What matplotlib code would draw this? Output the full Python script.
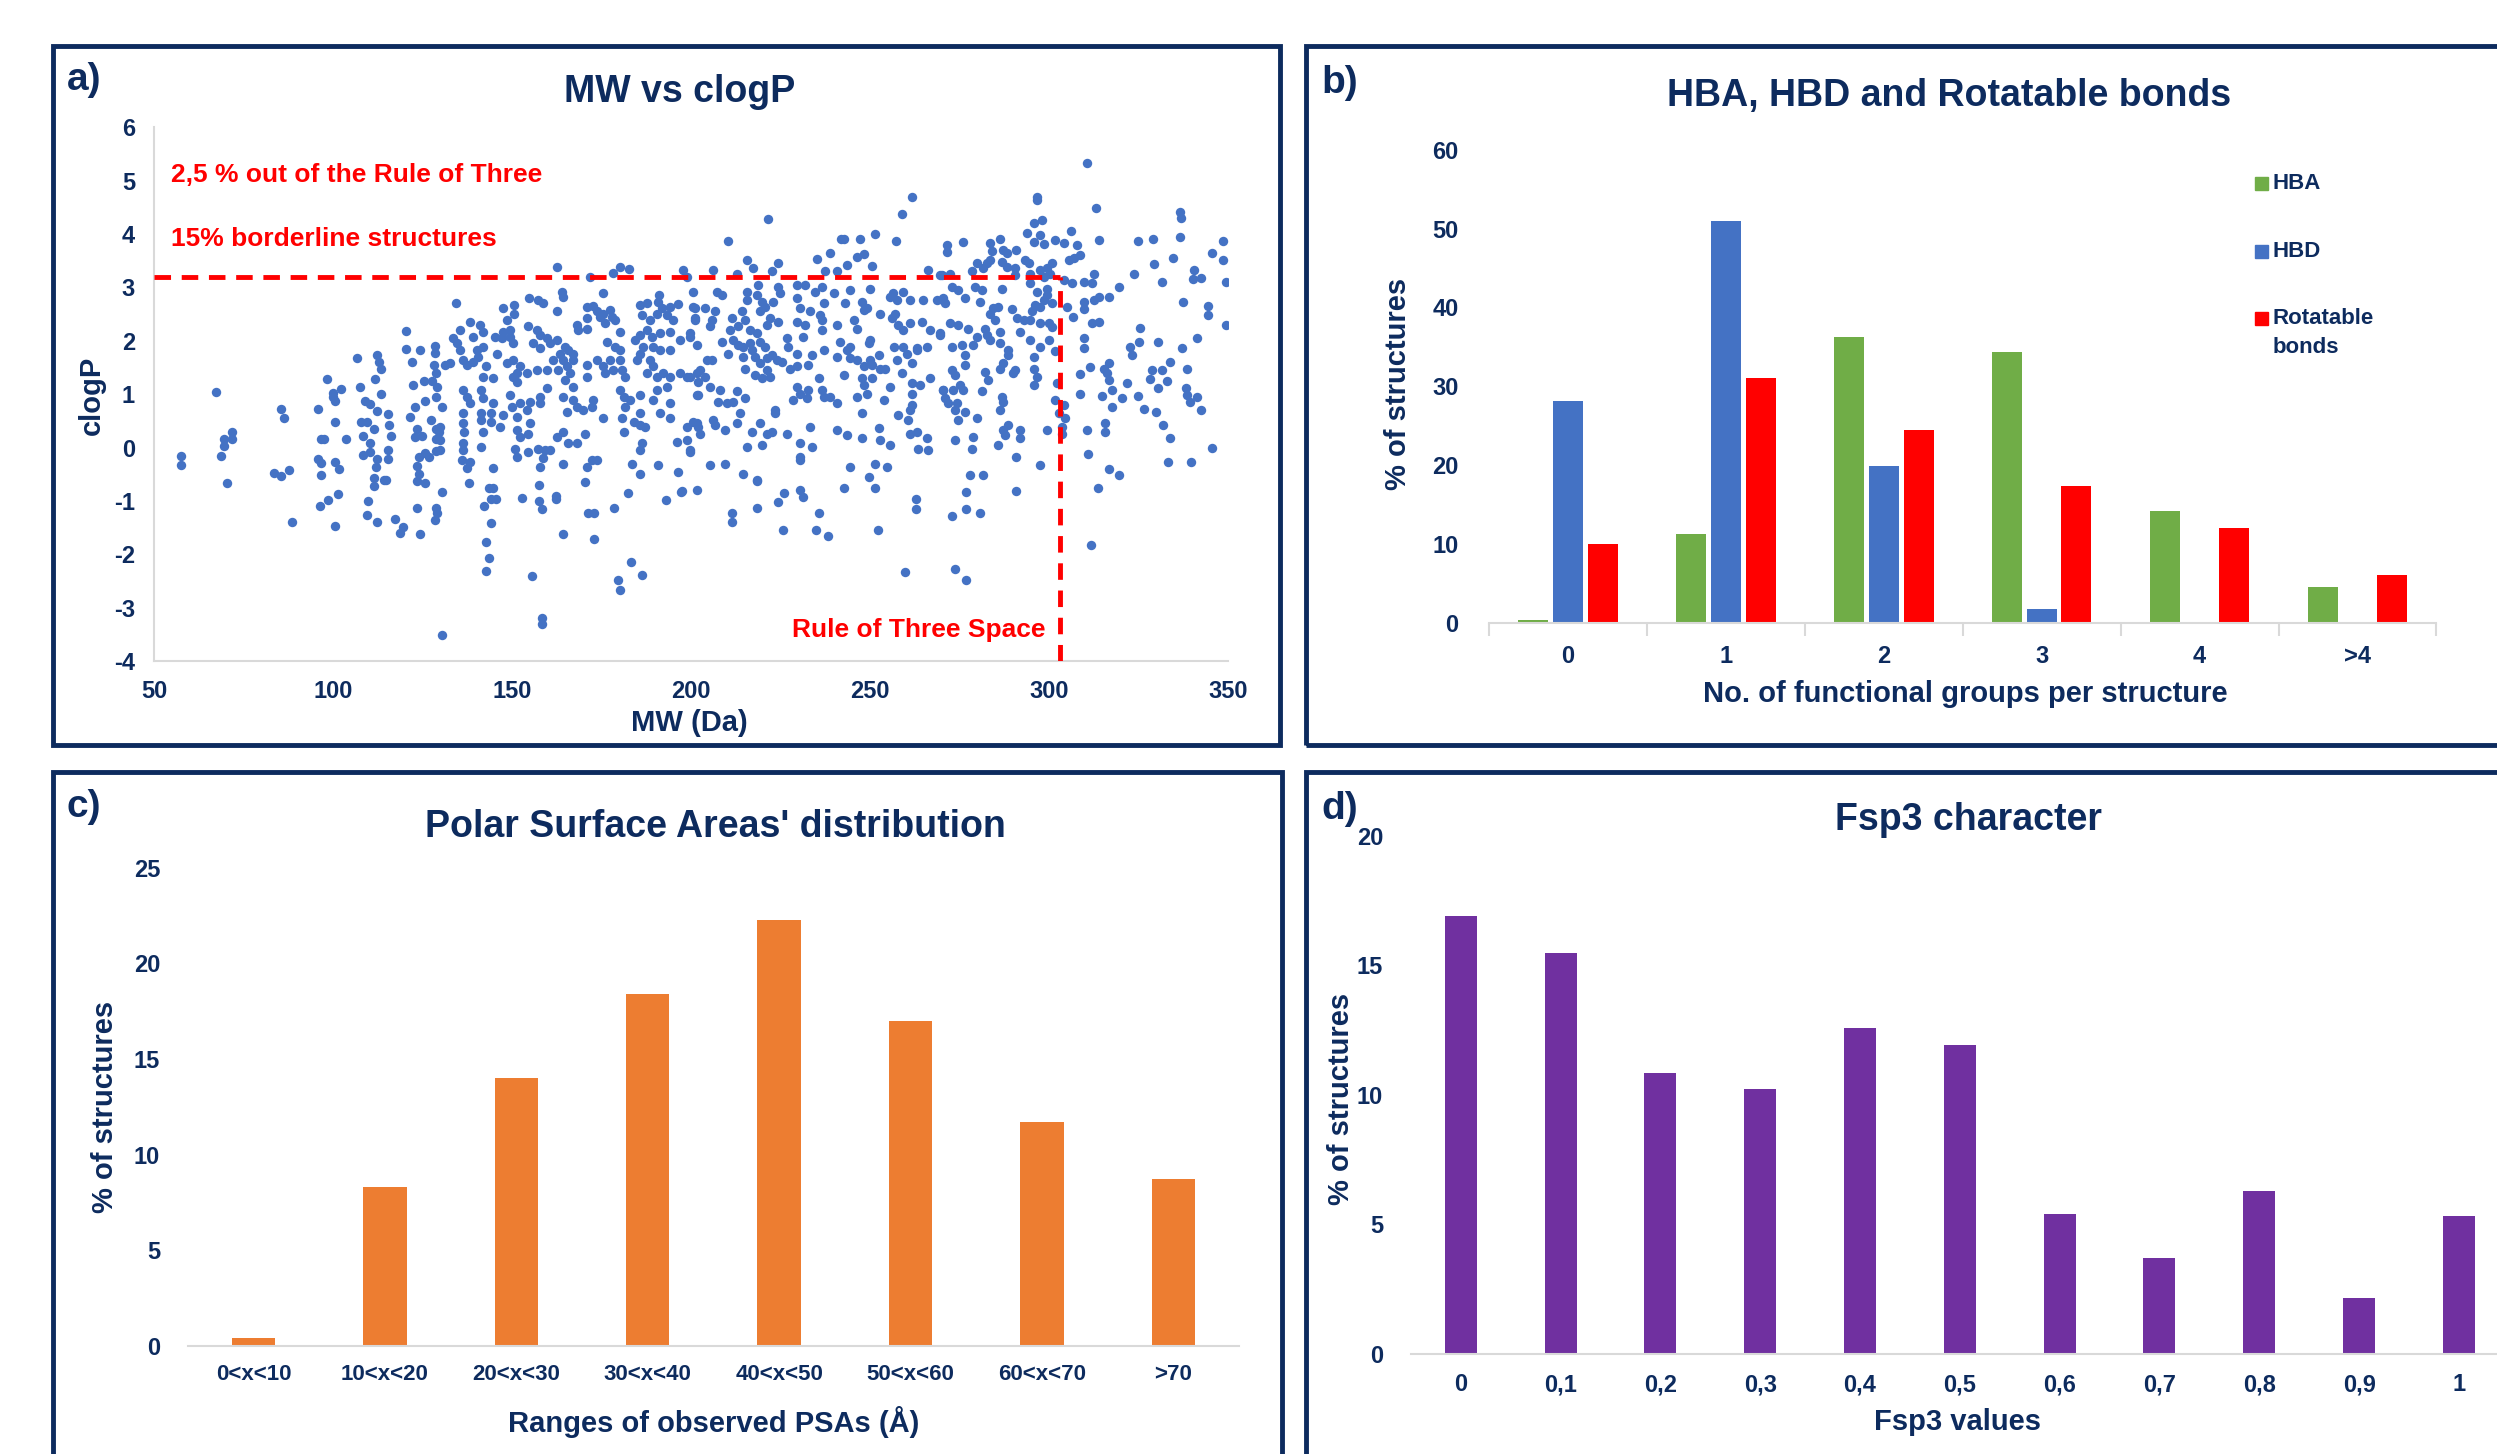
import numpy as np
import matplotlib
matplotlib.use("Agg")
import matplotlib.pyplot as plt
from matplotlib.patches import Rectangle

plt.rcParams['font.family'] = ['Liberation Sans', 'DejaVu Sans']
plt.rcParams['font.weight'] = 'bold'
plt.rcParams['axes.unicode_minus'] = False

NAVY = '#0d2b5e'
GREY = '#d9d9d9'

# ---- a) MW vs clogP, (MW, clogP) pairs ----
pts_left = [(57.4, -0.16), (57.4, -0.32), (67.3, 1.04), (71.6, 0.29), (69.5, 0.16), (69.5, 0.02),
            (68.5, -0.16), (71.8, 0.16), (70.3, -0.67), (85.3, 0.73), (86.3, 0.56), (83.4, -0.47),
            (85.3, -0.54), (87.5, -0.42), (88.4, -1.39), (95.7, 0.73), (96.6, 0.16), (95.7, -0.21),
            (96.6, -0.29), (96.6, -0.51), (98.3, 1.29), (99.8, 1.02), (99.8, 0.95), (97.5, 0.16),
            (98.4, -0.99), (96.4, -1.09),
            (100.5, 0.88), (100.5, 0.48), (103.6, 0.16), (100.5, -0.27), (101.5, -0.40), (101.4, -0.88),
            (100.5, -1.47), (102.1, 1.09), (106.5, 1.68), (107.5, 1.13), (108.9, 0.88), (110.3, 0.81),
            (112.3, 0.68), (107.6, 0.48), (109.4, 0.48), (111.3, 0.35), (108.4, 0.22), (110.3, 0.09),
            (110.3, -0.08), (108.4, -0.14), (112.3, -0.21), (111.8, -0.37), (111.3, -0.57), (114.2, -0.60),
            (111.3, -0.73), (109.6, -1.0), (109.4, -1.26), (112.3, -1.39), (112.3, 1.73), (112.8, 1.60),
            (113.4, 1.47), (111.5, 1.29), (113.4, 1.01), (115.2, 0.62), (115.6, 0.42), (116.1, 0.22),
            (115.2, -0.04), (115.2, -0.21), (114.6, -0.60), (117.3, -1.34), (119.5, -1.49), (118.6, -1.61),
            (120.4, 2.19), (120.4, 1.85), (121.9, 1.60), (122.4, 1.18), (124.3, 1.83), (125.3, 1.24),
            (122.9, 0.76), (125.7, 0.88), (121.4, 0.58), (123.3, 0.35), (122.9, 0.19), (124.8, 0.22),
            (123.8, -0.17), (125.7, -0.11), (123.3, -0.34), (123.8, -0.50), (123.3, -0.63), (125.7, -0.67),
            (123.3, -1.13), (124.3, -1.63), (128.4, 1.90), (128.4, 1.77), (128.1, 1.54), (128.6, 1.40),
            (127.7, 1.24), (129.1, 1.14), (128.6, 0.94), (127.2, 0.52), (128.6, 0.35), (129.6, 0.29),
            (128.6, 0.16), (128.6, -0.07), (126.7, -0.17), (128.6, -1.13), (129.1, -1.22), (128.4, -1.36)]

pts_core_130_200 = [
    (162.4, 3.39), (171.7, 3.20), (178.3, 3.28), (180.1, 3.39), (182.7, 3.34), (197.6, 3.33), (198.8, 3.20),
    (163.8, 2.92), (164.3, 2.83), (175.3, 2.89), (191.1, 2.86), (200.6, 2.92), (134.3, 2.71), (154.8, 2.80),
    (157.3, 2.77), (158.7, 2.70), (147.5, 2.61), (150.5, 2.67), (150.5, 2.51), (162.4, 2.56), (170.8, 2.64),
    (172.7, 2.65), (173.6, 2.55), (175.5, 2.51), (177.3, 2.58), (177.8, 2.45), (185.7, 2.67), (187.6, 2.70),
    (190.8, 2.73), (191.8, 2.61), (194.1, 2.64), (196.2, 2.69), (201.1, 2.61), (186.2, 2.48), (188.5, 2.39),
    (190.4, 2.51), (193.2, 2.48), (195.0, 2.39), (201.1, 2.42),
    (138.2, 2.36), (141.0, 2.30), (141.9, 2.17), (135.4, 2.20), (133.5, 2.05), (134.5, 1.95), (135.4, 1.83),
    (148.4, 2.39), (147.5, 2.17), (149.4, 2.20), (145.2, 2.08), (147.0, 2.05), (149.4, 2.08), (150.3, 1.95),
    (154.5, 2.27), (156.8, 2.20), (157.8, 2.11), (159.6, 2.05), (155.9, 1.95), (157.8, 1.86), (160.6, 1.95),
    (162.4, 2.01), (168.0, 2.30), (168.5, 2.20), (170.8, 2.23), (170.8, 2.42), (174.5, 2.45), (175.9, 2.33),
    (178.7, 2.39), (180.1, 2.17), (176.4, 1.98), (178.7, 1.89), (180.1, 1.83), (184.3, 2.01), (185.7, 2.11),
    (187.6, 2.20), (189.0, 2.08), (191.3, 2.14), (194.1, 2.17), (196.9, 2.01), (199.7, 2.08), (186.6, 1.89),
    (189.4, 1.89), (191.3, 1.83), (194.1, 1.83), (141.9, 1.89), (140.1, 1.83), (139.1, 2.08),
    (131.2, 1.55), (132.6, 1.58), (136.3, 1.64), (137.3, 1.55), (139.1, 1.61), (140.5, 1.70), (142.8, 1.52),
    (145.6, 1.76), (148.4, 1.58), (150.3, 1.64), (152.2, 1.52), (151.2, 1.39), (154.0, 1.39), (156.8, 1.45),
    (159.6, 1.45), (161.5, 1.64), (163.4, 1.76), (164.8, 1.89), (165.7, 1.83), (167.1, 1.76), (164.3, 1.64),
    (165.2, 1.52), (166.1, 1.39), (164.8, 1.27), (167.1, 1.64), (162.9, 1.45), (170.8, 1.55), (170.8, 1.33),
    (173.6, 1.64), (175.5, 1.52), (177.3, 1.64), (175.9, 1.39), (178.3, 1.45), (180.1, 1.64), (180.6, 1.45),
    (181.5, 1.33), (184.8, 1.64), (185.7, 1.76), (188.5, 1.64), (187.6, 1.39), (189.4, 1.52), (190.4, 1.33),
    (192.2, 1.39), (194.1, 1.33), (196.9, 1.39), (198.8, 1.33), (201.6, 1.39), (141.9, 1.33), (144.7, 1.30),
    (150.3, 1.33), (151.2, 1.23),
    (136.3, 1.08), (137.3, 0.95), (138.2, 0.83), (130.3, 0.76), (141.4, 1.08), (141.9, 0.92), (144.7, 0.83),
    (149.4, 0.98), (152.2, 0.83), (155.0, 0.86), (157.8, 0.95), (159.6, 1.11), (157.8, 0.83), (154.0, 0.70),
    (147.5, 0.61), (149.8, 0.76), (164.3, 0.95), (167.1, 1.14), (167.1, 0.89), (168.0, 0.76), (169.9, 0.70),
    (172.2, 0.76), (165.2, 0.67), (172.7, 0.89), (180.1, 1.08), (181.1, 0.95), (181.5, 0.76), (182.9, 0.89),
    (185.7, 0.98), (189.4, 0.89), (190.4, 1.08), (193.2, 1.14), (194.1, 0.83), (201.6, 0.98), (136.3, 0.64),
    (141.4, 0.64), (144.2, 0.64), (175.5, 0.55), (185.7, 0.64), (191.3, 0.64), (194.1, 0.55),
    (129.8, 0.39), (129.8, 0.14), (136.3, 0.45), (136.5, 0.30), (136.3, 0.08), (141.4, 0.51), (141.9, 0.30),
    (144.2, 0.48), (146.6, 0.39), (151.2, 0.58), (151.2, 0.33), (155.0, 0.45), (152.2, 0.20), (154.5, 0.26),
    (162.4, 0.20), (164.3, 0.30), (165.7, 0.08), (168.0, 0.08), (170.3, 0.26), (180.6, 0.55), (181.1, 0.30),
    (183.9, 0.48), (185.7, 0.42), (187.1, 0.39), (198.8, 0.39), (201.6, 0.45), (196.0, 0.11), (198.8, 0.14),
    (129.8, -0.05), (136.3, -0.05), (138.2, -0.27), (137.3, -0.39), (135.9, -0.24), (141.4, 0.01),
    (144.7, -0.39), (150.8, -0.02), (151.2, -0.17), (154.5, -0.08), (157.3, -0.02), (159.2, -0.05),
    (160.6, -0.05), (158.7, -0.20), (157.8, -0.36), (164.3, -0.30), (170.8, -0.36), (172.2, -0.24),
    (173.6, -0.24), (183.4, -0.30), (185.7, -0.05), (186.2, 0.08), (190.8, -0.33), (196.4, -0.45),
    (199.7, -0.08), (185.7, -0.49)]

pts_core_200_270 = [
    (215.5, 3.51), (217.4, 3.36), (224.4, 3.46), (222.5, 3.30), (235.1, 3.53), (238.8, 3.65), (246.3, 3.58),
    (248.2, 3.63), (250.5, 3.40), (243.5, 3.42), (237.4, 3.30), (240.7, 3.30), (206.2, 3.33), (212.7, 3.26),
    (266.3, 3.33), (270.1, 3.23),
    (207.2, 2.92), (208.5, 2.86), (215.5, 2.92), (218.8, 3.05), (218.3, 2.86), (224.4, 3.01), (224.9, 2.89),
    (229.5, 3.05), (231.9, 3.05), (234.6, 2.92), (236.5, 3.01), (239.8, 2.89), (244.4, 2.95), (250.0, 2.98),
    (256.5, 2.89), (259.3, 2.92), (215.5, 2.76), (219.7, 2.73), (223.0, 2.73), (220.7, 2.64), (219.3, 2.55),
    (229.5, 2.80), (230.5, 2.61), (233.3, 2.55), (237.0, 2.70), (236.0, 2.48), (243.0, 2.70), (247.7, 2.73),
    (248.2, 2.58), (249.1, 2.61), (252.8, 2.51), (255.6, 2.83), (257.5, 2.76), (261.2, 2.76), (264.9, 2.76),
    (268.7, 2.76), (270.5, 2.76), (257.0, 2.51), (203.9, 2.61), (200.6, 2.64), (206.7, 2.55), (214.1, 2.55),
    (201.1, 2.39), (205.8, 2.39), (205.3, 2.27), (211.3, 2.42), (215.1, 2.39), (213.2, 2.27), (210.9, 2.20),
    (216.5, 2.20), (218.3, 2.14), (222.1, 2.42), (224.4, 2.36), (221.1, 2.30), (229.5, 2.36), (231.9, 2.30),
    (236.5, 2.39), (236.5, 2.20), (240.7, 2.30), (245.4, 2.39), (246.3, 2.23), (256.1, 2.42), (257.9, 2.30),
    (259.3, 2.20), (261.2, 2.33), (264.5, 2.36), (266.8, 2.20), (269.6, 2.11), (199.7, 2.14), (201.6, 1.92),
    (208.6, 1.98), (211.8, 2.01), (213.2, 1.92), (214.6, 1.89), (216.5, 1.95), (219.3, 1.98), (220.7, 1.89),
    (226.7, 2.05), (227.2, 1.89), (231.4, 2.08), (241.6, 1.98), (244.4, 1.89), (250.0, 2.01), (249.6, 1.95),
    (256.6, 1.89), (259.3, 1.89), (263.1, 1.86), (265.9, 1.89),
    (204.4, 1.64), (205.8, 1.64), (202.5, 1.45), (203.9, 1.33), (202.0, 1.23), (210.4, 1.76), (214.6, 1.70),
    (216.9, 1.83), (217.9, 1.70), (219.3, 1.58), (221.1, 1.67), (222.5, 1.73), (223.9, 1.64), (225.3, 1.61),
    (215.1, 1.48), (217.9, 1.36), (219.7, 1.30), (221.1, 1.45), (222.1, 1.33), (227.7, 1.48), (229.5, 1.76),
    (229.5, 1.52), (232.8, 1.55), (233.7, 1.73), (235.6, 1.30), (237.0, 1.83), (240.7, 1.70), (243.5, 1.83),
    (244.4, 1.67), (246.3, 1.64), (248.2, 1.52), (250.5, 1.55), (252.8, 1.48), (254.2, 1.48), (250.0, 1.64),
    (252.4, 1.73), (242.6, 1.36), (247.7, 1.30), (250.5, 1.30), (257.5, 1.64), (258.9, 1.39), (260.3, 1.76),
    (261.7, 1.58), (263.1, 1.83), (266.8, 1.30), (199.7, 1.33),
    (202.0, 0.98), (205.3, 1.14), (208.1, 1.08), (207.6, 0.86), (210.0, 0.83), (211.8, 0.86), (215.1, 0.92),
    (212.7, 1.05), (229.5, 1.14), (230.5, 1.01), (232.8, 1.08), (228.6, 0.89), (232.3, 0.92), (236.5, 1.08),
    (237.0, 0.95), (238.8, 0.95), (240.7, 0.83), (246.3, 0.95), (249.1, 1.01), (248.2, 1.17), (255.6, 1.14),
    (253.8, 0.89), (261.7, 1.20), (264.0, 1.17), (261.7, 1.01), (270.5, 1.08), (261.7, 0.80), (261.2, 0.70),
    (223.5, 0.70), (223.5, 0.64), (213.7, 0.64), (257.9, 0.61), (247.7, 0.64),
    (200.6, 0.48), (202.0, 0.39), (202.5, 0.26), (206.2, 0.51), (206.7, 0.42), (212.7, 0.45), (209.5, 0.33),
    (219.3, 0.45), (221.1, 0.26), (222.5, 0.30), (216.9, 0.30), (226.7, 0.26), (233.3, 0.39), (240.7, 0.33),
    (243.5, 0.23), (247.7, 0.17), (252.4, 0.36), (252.8, 0.14), (255.6, 0.05), (260.7, 0.51), (261.2, 0.26),
    (263.1, 0.30), (265.9, 0.17), (199.7, -0.05), (215.5, 0.01), (219.7, 0.05), (230.5, 0.08), (233.7, 0.01),
    (263.5, -0.02), (266.3, -0.05),
    (230.5, -0.17), (230.5, -0.24), (205.3, -0.33), (209.5, -0.30), (214.6, -0.49), (244.4, -0.36),
    (251.4, -0.30), (254.7, -0.36), (249.6, -0.55), (218.3, -0.61)]

pts_core_270_342 = [
    (296.6, 4.64), (313.2, 4.48), (336.7, 4.42), (336.9, 4.30), (295.7, 4.20), (298.0, 4.26), (306.1, 4.06),
    (294.0, 4.03), (297.6, 3.98), (336.7, 3.95), (276.1, 3.86), (271.5, 3.80), (271.5, 3.67), (283.6, 3.83),
    (286.4, 3.90), (284.0, 3.69), (287.3, 3.70), (288.2, 3.64), (290.9, 3.70), (295.7, 3.86), (298.5, 3.81),
    (301.8, 3.89), (304.1, 3.84), (307.8, 3.80), (313.9, 3.89), (324.8, 3.88), (329.1, 3.91), (334.8, 3.55),
    (329.3, 3.44), (283.6, 3.51), (282.6, 3.45), (279.9, 3.45), (281.5, 3.36), (286.8, 3.48), (288.2, 3.39),
    (290.6, 3.36), (293.4, 3.51), (294.3, 3.45), (300.8, 3.45), (305.5, 3.51), (306.9, 3.55), (308.7, 3.61),
    (278.5, 3.30), (269.6, 3.23), (272.4, 3.26), (290.6, 3.23), (294.8, 3.26), (297.6, 3.33), (299.4, 3.36),
    (298.5, 3.20), (300.4, 3.26), (304.1, 3.14), (306.4, 3.08), (309.7, 3.11), (312.7, 3.26), (312.0, 3.08),
    (319.7, 3.00), (323.8, 3.26), (331.6, 3.11), (340.6, 3.33), (340.4, 3.15),
    (272.9, 3.00), (274.7, 2.95), (279.4, 3.00), (281.3, 2.95), (286.8, 2.98), (294.8, 3.08), (296.6, 2.92),
    (299.4, 2.98), (299.4, 2.86), (298.5, 2.76), (270.5, 2.80), (271.0, 2.70), (276.6, 2.80), (280.8, 2.73),
    (284.5, 2.61), (283.6, 2.51), (285.9, 2.64), (289.6, 2.59), (295.2, 2.55), (296.2, 2.67), (297.6, 2.64),
    (300.8, 2.70), (305.0, 2.63), (306.7, 2.45), (309.7, 2.59), (309.7, 2.73), (312.5, 2.76), (313.9, 2.83),
    (316.7, 2.83), (337.6, 2.73), (272.4, 2.33), (274.7, 2.30), (277.5, 2.23), (282.2, 2.23), (285.0, 2.39),
    (291.0, 2.42), (292.9, 2.39), (294.8, 2.39), (297.6, 2.33), (299.9, 2.33), (300.8, 2.26), (312.0, 2.33),
    (313.9, 2.36), (325.5, 2.24), (269.6, 2.14),
    (279.9, 2.08), (282.6, 2.11), (283.6, 2.01), (286.4, 2.17), (286.4, 1.95), (292.0, 2.17), (294.8, 2.01),
    (299.9, 2.01), (272.9, 1.89), (275.7, 1.92), (278.9, 1.92), (276.6, 1.73), (288.7, 1.83), (288.7, 1.73),
    (297.6, 1.89), (301.8, 1.81), (309.7, 2.06), (309.7, 1.86), (322.7, 1.89), (323.2, 1.73), (325.1, 1.98),
    (330.6, 1.98), (337.2, 1.86), (341.4, 2.05), (276.6, 1.55), (287.3, 1.58), (286.4, 1.48), (295.7, 1.70),
    (295.7, 1.48), (290.1, 1.39), (290.6, 1.45), (282.2, 1.42), (272.9, 1.45), (273.8, 1.36), (283.1, 1.26),
    (296.6, 1.33), (316.7, 1.58), (315.3, 1.48), (311.5, 1.51), (308.7, 1.37), (316.2, 1.39), (316.7, 1.26),
    (328.8, 1.45), (331.6, 1.45), (333.9, 1.61), (338.6, 1.48), (328.3, 1.29), (333.0, 1.25), (321.8, 1.20),
    (270.5, 1.08), (273.3, 1.08), (275.2, 1.17), (276.1, 1.08), (271.0, 0.92), (271.9, 0.83), (274.3, 0.83),
    (273.8, 0.70), (276.6, 0.67), (281.3, 1.05), (286.8, 0.95), (287.3, 0.86), (286.4, 0.70), (295.7, 1.17),
    (302.2, 1.20), (308.7, 1.00), (314.8, 0.96), (317.6, 1.08), (317.6, 0.76), (320.4, 0.92), (324.8, 0.96),
    (326.6, 0.73), (330.0, 0.67), (330.6, 1.11), (338.4, 1.11), (338.6, 0.98), (339.5, 0.86), (341.4, 0.95),
    (301.8, 0.89), (304.1, 0.80), (302.7, 0.64), (304.5, 0.55), (303.6, 0.39), (303.6, 0.26), (279.9, 0.55),
    (274.7, 0.51), (288.7, 0.42), (287.3, 0.33), (292.0, 0.33), (292.0, 0.17), (287.8, 0.23), (299.4, 0.33),
    (310.6, 0.33), (315.7, 0.45), (315.7, 0.30), (332.0, 0.42), (333.9, 0.17), (273.8, 0.15), (278.9, 0.20),
    (278.5, -0.02), (285.9, 0.05), (290.9, -0.17), (297.6, -0.33), (310.8, -0.12), (316.7, -0.41),
    (319.7, -0.52), (333.2, -0.27), (339.7, -0.27), (278.0, -0.52), (281.7, -0.52)]

pts_tails = [(130.5, -0.83), (130.3, -3.52), (137.8, -0.67), (143.5, -0.76), (144.5, -0.76), (144.0, -0.96),
             (145.5, -0.96), (142.1, -1.09), (144.0, -1.42), (142.6, -1.78), (143.5, -2.08), (142.6, -2.31),
             (152.7, -0.95), (157.4, -0.70), (157.4, -1.0), (158.4, -1.16), (155.5, -2.41), (158.4, -3.20),
             (158.4, -3.31), (162.2, -0.90), (162.2, -0.96), (164.1, -1.62), (170.3, -0.64), (171.3, -1.23),
             (172.8, -1.23), (172.8, -1.72), (178.5, -1.13), (182.4, -0.85), (179.5, -2.48), (180.0, -2.67),
             (183.3, -2.14), (186.2, -2.39), (197.2, -0.83), (192.9, -0.99), (197.4, -0.82), (201.7, -0.80),
             (211.4, -1.23), (211.4, -1.39), (218.4, -0.63), (218.4, -1.13), (224.4, -1.03), (225.9, -0.86),
             (225.6, -1.55), (230.3, -0.80), (231.3, -0.93), (235.8, -1.23), (234.8, -1.55), (238.3, -1.65),
             (242.8, -0.76), (251.3, -0.76), (252.3, -1.55), (262.8, -0.96), (262.8, -1.15), (259.8, -2.33),
             (272.8, -1.29), (273.8, -2.28), (276.8, -0.83), (276.8, -1.16), (280.7, -1.23), (276.8, -2.48),
             (290.7, -0.82), (313.7, -0.76), (311.7, -1.82),
             (210.4, 3.87), (221.4, 4.28), (241.8, 3.90), (242.8, 3.90), (247.3, 3.90), (251.3, 4.00),
             (257.3, 3.87), (258.8, 4.38), (261.8, 4.69), (296.7, 4.69), (310.7, 5.34)]

pts_right = [(342.6, 3.18), (345.6, 3.64), (348.6, 3.87), (348.6, 3.51), (349.6, 3.11), (344.6, 2.65),
             (344.6, 2.49), (349.6, 2.29), (342.6, 0.71), (345.6, -0.01)]

# ---- b) HBA, HBD, rotatable bonds ----
groups = ['0', '1', '2', '3', '4', '>4']
hba = [0.4, 11.2, 36.2, 34.4, 14.2, 4.5]
hbd = [28.1, 50.9, 19.9, 1.7, 0, 0]
rot = [10.0, 31.1, 24.5, 17.3, 12.0, 6.0]

# ---- c) PSA ----
psa_ranges = ['0<x<10', '10<x<20', '20<x<30', '30<x<40', '40<x<50', '50<x<60', '60<x<70', '>70']
psa_pct = [0.41, 8.3, 14.0, 18.4, 22.3, 17.0, 11.7, 8.7]

# ---- d) Fsp3 ----
fsp3_vals = ['0', '0,1', '0,2', '0,3', '0,4', '0,5', '0,6', '0,7', '0,8', '0,9', '1']
fsp3_pct = [16.93, 15.47, 10.85, 10.24, 12.6, 11.93, 5.4, 3.7, 6.27, 2.15, 5.32]

W, H = 2497, 1454
fig = plt.figure(figsize=(W / 100, H / 100), dpi=100)


def fx(px):
    # layout measured on a 1568 x 913 view of the figure
    return px / 1568


def fy(py):
    return 1 - py / 913


def box(x0, y0, x1, y1):
    fig.patches.append(Rectangle((fx(x0), fy(y1)), fx(x1) - fx(x0), fy(y0) - fy(y1),
                                 transform=fig.transFigure, fill=False, ec=NAVY, lw=3.5, zorder=0))


def style(ax):
    for s in ['top', 'right', 'left']:
        ax.spines[s].set_visible(False)
    ax.spines['bottom'].set_color(GREY)
    ax.spines['bottom'].set_linewidth(1.5)
    ax.tick_params(length=0, labelsize=17, labelcolor=NAVY)


box(33, 29, 804, 468)
box(820, 29, 1600, 468)
box(33, 485, 805, 950)
box(820, 485, 1600, 950)

# panel a
ax = fig.add_axes([fx(97), fy(415), fx(771) - fx(97), fy(80) - fy(415)])
style(ax)
ax.spines['left'].set_visible(True)
ax.spines['left'].set_color(GREY)
ax.spines['left'].set_linewidth(1.5)
pts = np.array(pts_left + pts_core_130_200 + pts_core_200_270 + pts_core_270_342 + pts_tails + pts_right)
ax.scatter(pts[:, 0], pts[:, 1], s=46, color='#4472c4', lw=0, zorder=2)
ax.set_xlim(50, 350)
ax.set_ylim(-4, 6)
ax.set_xticks(np.arange(50, 351, 50))
ax.set_yticks(np.arange(-4, 7, 1))
ax.tick_params(axis='x', pad=14)
ax.tick_params(axis='y', pad=14)
ax.plot([50, 303], [3.2, 3.2], color='red', lw=3.5, dashes=(3.4, 2.2), zorder=3)
ax.plot([303, 303], [-4, 3.2], color='red', lw=3.5, dashes=(3.4, 2.2), zorder=3)
ax.text(54.5, 5.1, '2,5 % out of the Rule of Three', color='red', fontsize=19, va='center')
ax.text(54.5, 3.9, '15% borderline structures', color='red', fontsize=19, va='center')
ax.text(299, -3.42, 'Rule of Three Space', color='red', fontsize=19, va='center', ha='right')

# panel b
ax = fig.add_axes([fx(935), fy(391), fx(1530) - fx(935), fy(94) - fy(391)])
style(ax)
x = np.arange(len(groups))
bw = 0.19
ax.bar(x - 0.22, hba, bw, color='#70ad47')
ax.bar(x, hbd, bw, color='#4472c4')
ax.bar(x + 0.22, rot, bw, color='#ff0000')
ax.set_xlim(-0.5, 5.5)
ax.set_ylim(0, 60)
ax.set_yticks(np.arange(0, 61, 10))
ax.set_xticks(np.arange(-0.5, 6, 1))
ax.set_xticklabels([])
ax.set_xticks(x, minor=True)
ax.set_xticklabels(groups, minor=True)
ax.tick_params(axis='x', which='major', length=9, width=1.5, color=GREY)
ax.tick_params(axis='x', which='minor', length=0, pad=16, labelsize=17, labelcolor=NAVY)
ax.tick_params(axis='y', pad=22)

leg = [('HBA', '#70ad47', 115), ('HBD', '#4472c4', 158), ('Rotatable', '#ff0000', 200)]
for name, col, yy in leg:
    fig.patches.append(Rectangle((fx(1416), fy(yy + 4)), fx(8), 8 / 913,
                                 transform=fig.transFigure, color=col))
    fig.text(fx(1427), fy(yy), name, fontsize=16, color=NAVY, va='center')
fig.text(fx(1427), fy(218), 'bonds', fontsize=16, color=NAVY, va='center')

# panel c
ax = fig.add_axes([fx(118), fy(845), fx(778) - fx(118), fy(545) - fy(845)])
style(ax)
ax.bar(np.arange(len(psa_ranges)), psa_pct, 0.33, color='#ed7d31')
ax.set_xlim(-0.5, 7.5)
ax.set_ylim(0, 25)
ax.set_yticks(np.arange(0, 26, 5))
ax.set_xticks(np.arange(len(psa_ranges)))
ax.set_xticklabels(psa_ranges)
ax.tick_params(axis='x', pad=13, labelsize=16)
ax.tick_params(axis='y', pad=20)

# panel d
ax = fig.add_axes([fx(886), fy(850), fx(1575.4) - fx(886), fy(525) - fy(850)])
style(ax)
ax.bar(np.arange(len(fsp3_vals)), fsp3_pct, 0.32, color='#7030a0')
ax.set_xlim(-0.5, 10.5)
ax.set_ylim(0, 20)
ax.set_yticks(np.arange(0, 21, 5))
ax.set_xticks(np.arange(len(fsp3_vals)))
ax.set_xticklabels(fsp3_vals)
ax.tick_params(axis='x', pad=14)
ax.tick_params(axis='y', pad=20)

# titles, labels, panel letters
tk = dict(color=NAVY, ha='center', va='center')
fig.text(fx(427), fy(58), 'MW vs clogP', fontsize=27, **tk)
fig.text(fx(1224), fy(60), 'HBA, HBD and Rotatable bonds', fontsize=27, **tk)
fig.text(fx(449), fy(519), "Polar Surface Areas' distribution", fontsize=27, **tk)
fig.text(fx(1236), fy(515), 'Fsp3 character', fontsize=27, **tk)

fig.text(fx(433), fy(454), 'MW (Da)', fontsize=21, **tk)
fig.text(fx(1234), fy(436), 'No. of functional groups per structure', fontsize=21, **tk)
fig.text(fx(448), fy(893), 'Ranges of observed PSAs (Å)', fontsize=21, **tk)
fig.text(fx(1229), fy(893), 'Fsp3 values', fontsize=21, **tk)

fig.text(fx(58), fy(248), 'clogP', fontsize=21, rotation=90, **tk)
fig.text(fx(878), fy(241), '% of structures', fontsize=21, rotation=90, **tk)
fig.text(fx(66), fy(695), '% of structures', fontsize=21, rotation=90, **tk)
fig.text(fx(842), fy(690), '% of structures', fontsize=21, rotation=90, **tk)

for lab, xx, yy in [('a)', 42, 50), ('b)', 830, 52), ('c)', 42, 507), ('d)', 830, 508)]:
    fig.text(fx(xx), fy(yy), lab, fontsize=28, color=NAVY, va='center')

fig.savefig('out.png', dpi=100)
